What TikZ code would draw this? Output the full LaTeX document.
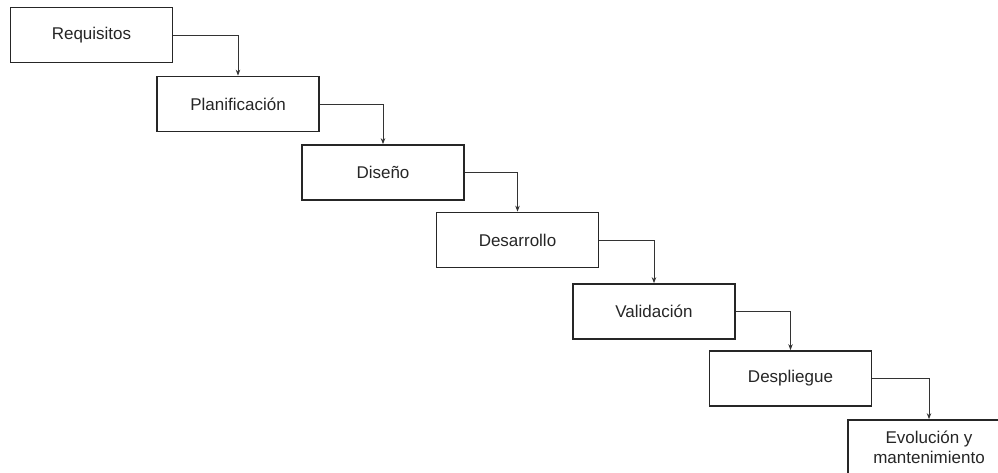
\documentclass[tikz,border=0pt]{standalone}
\usepackage{fontspec}
\setmainfont{Liberation Sans}
\usetikzlibrary{arrows.meta}
\begin{document}
\begin{tikzpicture}[x=1pt,y=-1pt,
  phase/.style={draw=black!85, line width=1.7pt, fill=white,
    minimum width=162pt, minimum height=55pt, inner sep=0pt,
    align=center, font=\fontsize{17}{20.5}\selectfont, text=black!85},
  flow/.style={draw=black!80, line width=0.9pt,
    -{Stealth[length=6pt,width=4.5pt]}}]
\useasboundingbox (0,0) rectangle (998,473);
\node[phase] (req) at (91.5,35)   {Requisitos};
\node[phase] (pla) at (238,104)   {Planificación};
\node[phase] (dis) at (383,172.5) {Diseño};
\node[phase] (des) at (517.5,240) {Desarrollo};
\node[phase] (val) at (654,311.5) {Validación};
\node[phase] (dep) at (790.5,378.5) {Despliegue};
\node[phase] (evo) at (929,447.5) {Evolución y\\mantenimiento};
\draw[flow] (req.east) -| (pla.north);
\draw[flow] (pla.east) -| (dis.north);
\draw[flow] (dis.east) -| (des.north);
\draw[flow] (des.east) -| (val.north);
\draw[flow] (val.east) -| (dep.north);
\draw[flow] (dep.east) -| (evo.north);
\end{tikzpicture}
\end{document}
